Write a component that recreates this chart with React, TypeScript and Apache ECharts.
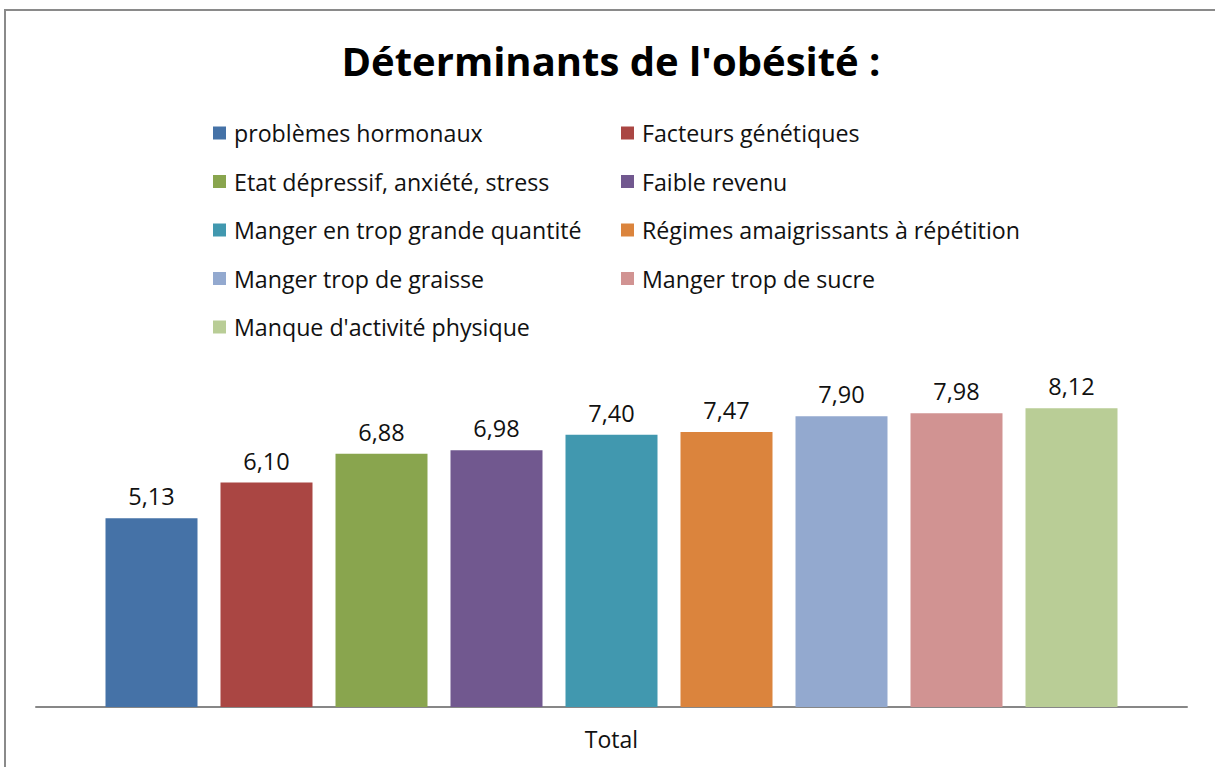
import React, { useEffect, useRef } from "react";
import * as echarts from "echarts";

const categories = ["Total"];
const seriesNames = [
  "problèmes hormonaux",
  "Facteurs génétiques",
  "Etat dépressif, anxiété, stress",
  "Faible revenu",
  "Manger en trop grande quantité",
  "Régimes amaigrissants à répétition",
  "Manger trop de graisse",
  "Manger trop de sucre",
  "Manque d'activité physique",
];
const seriesValues = [5.13, 6.1, 6.88, 6.98, 7.4, 7.47, 7.9, 7.98, 8.12];
const colors = [
  "#4572A7",
  "#AA4643",
  "#89A54E",
  "#71588F",
  "#4198AF",
  "#DB843D",
  "#93A9CF",
  "#D19392",
  "#B9CD96",
];
const titleText = "Déterminants de l'obésité :";

const FONT = "'Open Sans', sans-serif";

export default function App() {
  const ref = useRef<HTMLDivElement>(null);
  useEffect(() => {
    if (!ref.current) return;
    const chart = echarts.init(ref.current, null, { renderer: "svg" });
    const legends = seriesNames.map((name, i) => ({
      data: [name],
      left: i % 2 === 0 ? 213 : 621,
      top: 121 + Math.floor(i / 2) * 48.5,
      padding: 0,
      itemWidth: 13,
      itemHeight: 13,
      itemGap: 0,
      icon: "rect",
      selectedMode: false,
      textStyle: {
        fontFamily: FONT,
        fontSize: 23.2,
        color: "#111",
        lineHeight: 24,
        padding: [0, 0, 0, 3],
      },
    }));
    chart.setOption({
      animation: false,
      backgroundColor: "#fff",
      color: colors,
      title: {
        text: titleText,
        left: 611,
        textAlign: "center",
        top: 40,
        padding: 0,
        textStyle: {
          fontFamily: FONT,
          fontWeight: "bold",
          fontSize: 40,
          color: "#000",
        },
      },
      legend: legends,
      grid: { left: 36, right: 28, top: 339, bottom: 60 },
      xAxis: {
        type: "category",
        data: categories,
        axisLine: { lineStyle: { color: "#878787", width: 2 } },
        axisTick: { show: false },
        axisLabel: {
          fontFamily: FONT,
          fontSize: 23,
          color: "#111",
          margin: 20,
        },
      },
      yAxis: {
        type: "value",
        min: 0,
        max: 10,
        show: false,
        splitLine: { show: false },
      },
      graphic: [
        {
          type: "rect",
          shape: { x: 5, y: 10, width: 1300, height: 900 },
          style: { fill: "none", stroke: "#8a8a8a", lineWidth: 2 },
          silent: true,
        },
      ],
      series: seriesNames.map((name, i) => ({
        name,
        type: "bar",
        data: [seriesValues[i]],
        barWidth: 92,
        barGap: "25%",
        itemStyle: { color: colors[i] },
        label: {
          show: true,
          position: "top",
          distance: 10,
          fontFamily: FONT,
          fontSize: 23.5,
          color: "#111",
          formatter: (p: any) => Number(p.value).toFixed(2).replace(".", ","),
        },
      })),
    });
    return () => chart.dispose();
  }, []);
  return (
    <div
      ref={ref}
      style={{ position: "absolute", left: 0, top: 0, width: 1215, height: 767 }}
    />
  );
}
